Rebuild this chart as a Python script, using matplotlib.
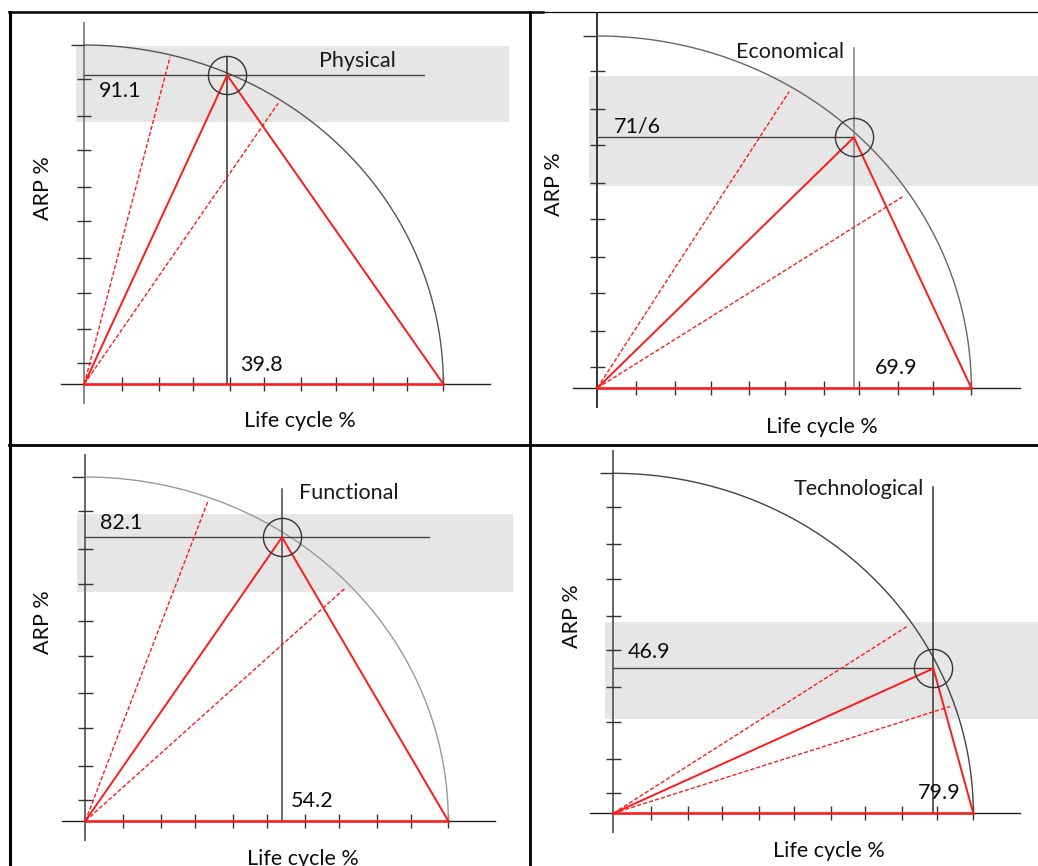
import matplotlib
matplotlib.use("Agg")
import matplotlib.pyplot as plt
import numpy as np
from matplotlib.lines import Line2D

plt.rcParams['font.family'] = ['Lato', 'DejaVu Sans']

# ---------------- data ----------------
titles = ["Physical", "Economical", "Functional", "Technological"]
# labels printed on the chart
x_labels = ["39.8", "69.9", "54.2", "79.9"]
y_labels = ["91.1", "71/6", "82.1", "46.9"]
# drawn position of the marked point (life cycle %, ARP %)
point_x = [39.8, 68.6, 54.2, 88.9]
point_y = [91.1, 71.2, 82.5, 42.6]
# end points of the two dashed rays on the arc
dash1_x = [23.9, 51.3, 33.9, 81.5]
dash1_y = [96.5, 84.2, 93.3, 54.9]
dash2_x = [54.0, 81.6, 71.5, 93.5]
dash2_y = [82.8, 54.3, 67.6, 31.4]
# grey band (ARP range)
band_low = [77.2, 57.5, 66.7, 27.6]
band_high = [99.8, 88.6, 89.2, 56.4]
# guide line lengths
hline_end = [94.6, None, 94.8, None]
vline_top = [96.6, 96.5, 96.4, 96.0]
# tick positions (hand drawn template)
x_ticks = [10.4, 20.8, 30.3, 40.6, 50.1, 60.5, 70.0, 80.3, 89.8]
y_ticks = [6.1, 16.1, 26.9, 37.1, 48.0, 58.1, 69.0, 79.2, 90.0]

# ---------------- layout ----------------
W, H = 1038, 866
fig = plt.figure(figsize=(W / 100, H / 100), dpi=100)
fig.patch.set_facecolor('white')

cells = [(9, 12, 530, 445), (530, 12, 1038, 445), (9, 445, 530, 866), (530, 445, 1038, 866)]
origins = [(84.3, 384.0), (597.3, 388.0), (85.3, 821.0), (613.3, 813.3)]
scales = [(3.59, 3.39), (3.74, 3.52), (3.63, 3.44), (3.60, 3.40)]
band_right = [118.3, 118.0, 117.8, 118.0]
title_pos = [(65.3, 95.3), (37.1, 95.5), (58.8, 95.4), (50.1, 95.3)]
ylab_pos = [(4.1, 86.3), (4.5, 74.4), (4.0, 86.7), (4.0, 47.4)]
xlab_pos = [(43.4, 5.6), (74.1, 5.6), (56.7, 5.8), (84.7, 5.9)]
arc_colors = ['#555555', '#666666', '#999999', '#444444']
vaxis_colors = ['#888888', '#333333', '#666666', '#666666']
vline_colors = ['#333333', '#808080', '#444444', '#333333']

FS = 15.5
red = '#ff1a1a'
txt = '#0d0d0d'

for i in range(4):
    x0, y0, x1, y1 = cells[i]
    ox, oy = origins[i]
    sx, sy = scales[i]
    ax = fig.add_axes([x0 / W, 1 - y1 / H, (x1 - x0) / W, (y1 - y0) / H])
    ax.set_xlim((x0 - ox) / sx, (x1 - ox) / sx)
    ax.set_ylim((oy - y1) / sy, (oy - y0) / sy)
    ax.axis('off')

    # grey band
    ax.fill_between([-2.2, band_right[i]], band_low[i], band_high[i],
                    color='#e6e6e6', lw=0, zorder=0)

    # axes lines
    ax.plot([0, 0], [-5.5, 106.5], color=vaxis_colors[i], lw=1.4, zorder=2)
    ax.plot([-6.4, 113.0], [0, 0], color='#222222', lw=1.0, zorder=2)
    # ticks
    ax.vlines(x_ticks + [100], -2.1, 2.1, color='#333333', lw=1.0, zorder=2)
    ax.hlines(y_ticks, -2.0, 2.0, color='#333333', lw=1.0, zorder=2)
    ax.hlines([100], -3.7, 0, color='#333333', lw=1.0, zorder=2)

    # quarter circle
    t = np.linspace(0, np.pi / 2, 300)
    ax.plot(100 * np.cos(t), 100 * np.sin(t), color=arc_colors[i], lw=1.0, zorder=3)

    px, py = point_x[i], point_y[i]
    # guide lines
    hx = hline_end[i] if hline_end[i] is not None else px
    ax.plot([0, hx], [py, py], color='#444444', lw=1.0, zorder=3)
    ax.plot([px, px], [0, vline_top[i]], color=vline_colors[i], lw=1.1, zorder=3)

    # red geometry
    ax.plot([0, 100], [0, 0], color=red, lw=1.8, zorder=4)
    ax.plot([0, px, 100], [0, py, 0], color=red, lw=1.4, zorder=4)
    ax.plot([0, dash1_x[i]], [0, dash1_y[i]], color=red, lw=1.0,
            linestyle=(0, (3, 1.5)), zorder=4)
    ax.plot([0, dash2_x[i]], [0, dash2_y[i]], color=red, lw=1.0,
            linestyle=(0, (3, 1.5)), zorder=4)

    # circle marker
    ax.plot([px], [py], marker='o', markersize=27.5, markerfacecolor='none',
            markeredgecolor='#333333', markeredgewidth=1.0, zorder=5)

    # texts
    tx, ty = title_pos[i]
    ax.text(tx, ty, titles[i], fontsize=FS, color='#1a1a1a', ha='left', va='center', zorder=6)
    ax.text(ylab_pos[i][0], ylab_pos[i][1], y_labels[i], fontsize=FS, color=txt,
            ha='left', va='center', zorder=6)
    ax.text(xlab_pos[i][0], xlab_pos[i][1], x_labels[i], fontsize=FS, color=txt,
            ha='left', va='center', zorder=6)
    ax.text(-11.6, 57.9, "ARP %", fontsize=FS, color=txt, rotation=90,
            ha='center', va='center', zorder=6)
    ax.text(60.0, -11.0, "Life cycle %", fontsize=FS, color=txt,
            ha='center', va='center', zorder=6, clip_on=False)

# table borders
def fline(xs, ys, lw, color='black'):
    fig.add_artist(Line2D([x / W for x in xs], [1 - y / H for y in ys],
                          transform=fig.transFigure, color=color, lw=lw))

fline([9.5, 9.5], [12, 866], 2.2)
fline([9, 543], [12, 12], 1.8)
fline([543, 1038], [11.7, 11.7], 0.9)
fline([530, 530], [12, 866], 2.0)
fline([9, 1038], [445, 445], 2.0)

fig.savefig("out.png", dpi=100, facecolor='white')
